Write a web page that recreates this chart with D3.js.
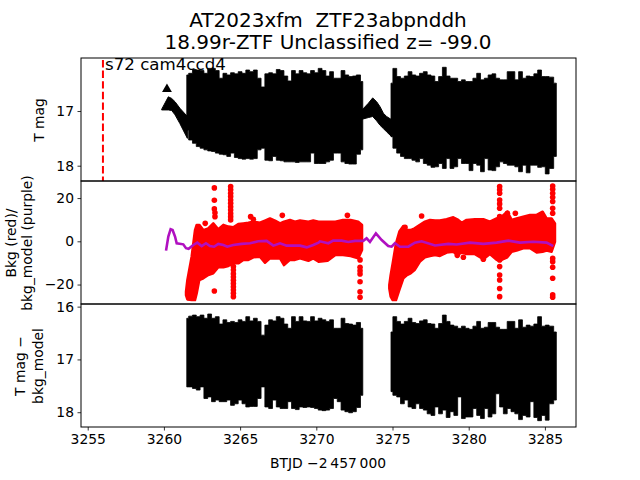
<!DOCTYPE html>
<html><head><meta charset="utf-8">
<script src="https://cdnjs.cloudflare.com/ajax/libs/d3/7.8.5/d3.min.js"></script>
<style>html,body{margin:0;padding:0;background:#fff}svg{display:block}text{font-family:"DejaVu Sans";fill:#000;white-space:pre}</style>
</head><body><script>
const titleLines=["AT2023xfm  ZTF23abpnddh","18.99r-ZTF Unclassified z= -99.0"];
const sectorLabel="s72 cam4ccd4";
const xTicks=[3255,3260,3265,3270,3275,3280,3285];
const topTicks=[17,18], midTicks=[20,0,-20], botTicks=[16,17,18];
const eventTime=3256;
const seg1Times=[3261.5,3261.75,3262,3262.25,3262.5,3262.75,3263,3263.25,3263.5,3263.75,3264,3264.25,3264.5,3264.75,3265,3265.25,3265.5,3265.75,3266,3266.25,3266.5,3266.75,3267,3267.25,3267.5,3267.75,3268,3268.25,3268.5,3268.75,3269,3269.25,3269.5,3269.75,3270,3270.25,3270.5,3270.75,3271,3271.25,3271.5,3271.75,3272,3272.25,3272.5,3272.75,3273.05];
const seg2Times=[3274.9,3275.15,3275.4,3275.65,3275.9,3276.15,3276.4,3276.65,3276.9,3277.15,3277.4,3277.65,3277.9,3278.15,3278.4,3278.65,3278.9,3279.15,3279.4,3279.65,3279.9,3280.15,3280.4,3280.65,3280.9,3281.15,3281.4,3281.65,3281.9,3282.15,3282.4,3282.65,3282.9,3283.15,3283.4,3283.65,3283.9,3284.15,3284.4,3284.65,3284.9,3285.15,3285.4,3285.75];
const topUp1=[16.34,16.31,16.24,16.25,16.26,16.31,16.22,16.22,16.26,16.40,16.31,16.34,16.30,16.32,16.28,16.31,16.25,16.28,16.25,16.40,16.56,16.32,16.30,16.32,16.24,16.26,16.36,16.45,16.26,16.32,16.26,16.30,16.32,16.26,16.30,16.22,16.26,16.36,16.28,16.40,16.40,16.26,16.34,16.37,16.36,16.34,16.46];
const topLow1=[17.35,17.53,17.59,17.65,17.68,17.71,17.73,17.74,17.77,17.79,17.80,17.83,17.77,17.85,17.87,17.88,17.87,17.88,17.87,17.71,17.68,17.90,17.91,17.83,17.90,17.91,17.93,17.93,17.93,17.94,17.93,17.93,17.93,17.77,17.96,17.96,17.96,17.93,17.90,17.77,17.77,17.93,17.96,17.97,17.97,17.79,17.71];
const topUp2=[16.49,16.22,16.37,16.40,16.36,16.28,16.34,16.36,16.31,16.28,16.34,16.36,16.46,16.37,16.20,16.36,16.40,16.40,16.46,16.43,16.46,16.46,16.40,16.31,16.43,16.40,16.34,16.32,16.40,16.43,16.43,16.28,16.28,16.43,16.28,16.40,16.36,16.37,16.32,16.25,16.37,16.37,16.38,16.49];
const topLow2=[17.47,17.68,17.77,17.83,17.87,17.87,17.90,17.93,17.87,17.96,17.99,18.03,18.02,17.96,18.05,17.87,18.05,18.02,17.87,17.96,17.96,18.09,17.96,17.99,18.11,17.87,18.08,18.09,18.02,17.93,17.96,17.99,17.99,18.02,18.11,17.99,18.13,17.99,17.99,18.03,18.02,18.15,18.05,17.83];
const botUp1=[16.22,16.18,16.16,16.19,16.16,16.22,16.14,16.22,16.19,16.33,16.25,16.30,16.28,16.30,16.25,16.28,16.19,16.27,16.22,16.28,16.54,16.35,16.25,16.27,16.19,16.22,16.33,16.41,16.19,16.28,16.19,16.27,16.28,16.19,16.27,16.22,16.25,16.28,16.25,16.41,16.41,16.22,16.32,16.33,16.35,16.30,16.41];
const botLow1=[17.52,17.52,17.55,17.58,17.52,17.74,17.71,17.80,17.77,17.80,17.80,17.77,17.87,17.84,17.77,17.84,17.90,17.89,17.89,17.74,17.52,17.90,17.93,17.77,17.90,17.93,17.93,17.80,17.93,17.95,17.90,17.91,17.90,17.91,17.93,17.96,17.97,17.96,17.93,17.74,17.80,17.96,17.99,18.01,17.99,17.91,17.68];
const botUp2=[16.48,16.19,16.28,16.33,16.28,16.22,16.30,16.32,16.27,16.25,16.32,16.33,16.41,16.32,16.16,16.28,16.35,16.37,16.41,16.37,16.41,16.43,16.37,16.28,16.41,16.39,16.30,16.30,16.39,16.43,16.43,16.28,16.28,16.41,16.25,16.39,16.35,16.37,16.33,16.19,16.37,16.35,16.37,16.48];
const botLow2=[17.61,17.68,17.71,17.84,17.77,17.90,17.93,17.84,17.93,17.96,18.03,18.06,17.90,18.03,17.96,18.10,17.99,18.06,17.71,18.12,18.09,18.09,17.93,18.06,18.12,17.93,18.09,18.03,17.65,17.90,18.03,17.93,17.99,18.03,18.14,18.06,18.09,17.80,18.10,18.16,18.06,18.15,17.84,17.77];
const earlyTimes=[3259.85,3260.29,3260.51,3260.73,3261.05,3261.54];
const earlyUp=[16.97,16.74,16.77,16.83,16.95,17.10];
const earlyLow=[16.98,16.98,16.99,17.07,17.23,17.50];
const firstTriangleTime=[3260.2], firstTriangleMag=[16.6];
const gapTimes=[3273.0,3273.41,3273.70,3273.96,3274.18,3274.40,3274.61,3274.95];
const gapUp=[16.98,16.86,16.76,16.83,16.92,17.04,17.10,17.16];
const gapLow=[17.15,17.12,17.10,17.18,17.26,17.32,17.38,17.47];
const bkgTimes1=[3261.45,3261.54,3261.82,3262.04,3262.15,3262.32,3262.59,3262.91,3263.24,3263.57,3263.90,3264.23,3264.55,3264.88,3265.21,3265.54,3265.87,3266.30,3266.63,3266.96,3267.29,3267.62,3267.88,3268.27,3268.60,3268.93,3269.48,3269.80,3270.15,3270.74,3271.25,3271.75,3272.25,3272.75,3273.0];
const bkgUp1=[-23.3,-17.9,-7.1,5.2,7.6,7.6,5.2,6.0,8.3,5.6,7.6,6.8,6.5,8.0,8.3,8.6,9.1,8.6,9.6,10.6,9.6,8.3,9.1,9.9,9.1,9.6,9.1,9.6,9.1,9.1,9.1,9.9,9.9,9.1,7.6];
const bkgLow1=[-24.9,-26.9,-27.2,-27.2,-24.1,-17.9,-17.1,-15.6,-14.8,-12,-12,-11.4,-10.2,-10.2,-8.6,-8.6,-7.4,-7.1,-9.9,-7.9,-7.9,-7.9,-11,-8.6,-8.6,-7.9,-9,-7.9,-9.4,-9,-6.3,-6.3,-6.8,-7.9,-4];
const bkgTimes2=[3274.79,3274.88,3275.01,3275.23,3275.45,3275.71,3275.95,3276.19,3276.45,3276.80,3277.13,3277.46,3277.79,3278.11,3278.55,3278.99,3279.25,3279.54,3279.86,3280.41,3280.96,3281.39,3281.83,3282.16,3282.53,3282.82,3283.14,3283.58,3284.02,3284.46,3284.85,3285.11,3285.44,3285.66];
const bkgUp2=[-20.2,-15.6,-10.2,-0.9,4.5,7.1,5.2,5.2,6.0,7.6,9.1,9.9,9.6,9.6,10.2,11.1,10.2,8.6,9.9,10.2,10.2,9.1,10.6,11.4,13.7,9.9,10.6,11.4,12.2,12.2,13.7,10.6,10.6,8.3];
const bkgLow2=[-21.8,-25.6,-27.2,-27.2,-22.5,-17.1,-15.6,-14.8,-13.3,-9.4,-7.4,-6.8,-6.3,-6.8,-5.2,-4.8,-6.3,-5.2,-5.9,-5.9,-8.3,-5.9,-8.6,-8.6,-7.4,-4.8,-4.3,-3.2,-3.2,-5.2,-4.8,-4.3,-4.8,-0.2];
const outlierTimes=[3263.31,3263.31,3263.31,3263.35,3263.35,3262.71,3263.31,3265.69,3265.87,3267.77,
 3264.38,3264.38,3264.38,3264.38,3264.38,3264.38,3264.38,3264.38,3264.38,3264.38,3264.38,
 3264.56,3264.56,3264.56,3264.56,3264.56,3264.56,3264.56,3264.56,3264.56,3264.56,
 3272.04,3272.87,3272.87,3272.87,3272.87,3272.87,3272.87,3272.87,3275.82,3276.91,3279.25,3279.65,3280.96,
 3282.03,3282.03,3282.03,3282.03,3282.03,3282.03,3282.03,3282.03,3282.03,3282.03,3282.03,3282.03,3282.03,
 3282.54,3283.06,
 3285.51,3285.51,3285.51,3285.51,3285.51,3285.51,3285.51,3285.51,3285.51,3285.51,3285.51,3285.51,3285.51];
const outlierVals=[24.7,19,15,13.2,11.4,8.3,-23.0,11.4,10.2,12,
 25.3,23.8,22.2,20.7,19.1,17.6,16,14.5,12.9,11.4,9.9,
 -11.7,-13.3,-15,-16.5,-18,-19.5,-21,-22.5,-24,-25.6,
 12,-8.6,-12,-13.6,-15.1,-18.7,-23.3,-25.9,6.5,11.7,-6.5,-7.4,-8.3,
 25.3,23.8,22.2,19.1,17.3,15.3,11.4,-8.6,-11.7,-15.6,-17.9,-21.8,-25.6,
 13,13,
 25.6,24.1,22.2,20.4,18.4,15.3,13,-7.9,-9.4,-12,-17.1,-24.8,-25.9];
const modelTimes=[3260.14,3260.29,3260.44,3260.57,3260.73,3260.84,3261.27,3261.45,3261.62,3261.93,3262.19,3262.48,3262.76,3263.02,3263.29,3263.57,3263.90,3264.16,3264.55,3265.10,3265.65,3266.19,3266.74,3267.18,3267.62,3268.05,3268.49,3268.93,3269.37,3269.80,3270.15,3270.24,3270.79,3271.11,3271.66,3272.10,3272.54,3273.08,3273.30,3273.52,3273.91,3274.29,3274.72,3274.94,3275.16,3275.49,3276.04,3276.47,3276.91,3277.79,3278.66,3279.21,3280.08,3280.96,3281.83,3282.60,3283.36,3284.24,3285.11,3285.55];
const modelVals=[-4.3,2.2,5.6,5.2,2.2,-0.9,-1.4,-3.2,-3.5,-1.7,-0.6,-2.2,-0.9,-2.2,-2.5,-1.2,-1.7,-2.5,-1.7,-1.2,-0.9,0,0.2,-2,-0.9,-2,-2,-2,-2.8,-1.7,-0.6,0,-0.9,0.3,0.3,-0.3,0.2,0.2,1.4,-0.3,3.7,0.6,-2.2,-2.5,-0.9,-2.5,-2.5,-0.6,0,-1.9,-1.2,-1.5,-0.6,-1.2,-0.6,0.3,-0.6,-0.2,-0.6,-2.2];

const W=640,H=480,L=81,R=576;
const svg=d3.select("body").append("svg").attr("width",W).attr("height",H);
const x=d3.scaleLinear().domain([3254.56,3287.04]).range([L,R]);
const yTop=d3.scaleLinear().domain([16.03,18.28]).range([58,181]);
const yMid=d3.scaleLinear().domain([27.9,-29]).range([181,304]);
const yBot=d3.scaleLinear().domain([15.95,18.28]).range([304,427]);
const defs=svg.append("defs");
function panel(id,y){
  defs.append("clipPath").attr("id",id).append("rect").attr("x",L).attr("y",y.range()[0]).attr("width",R-L).attr("height",y.range()[1]-y.range()[0]);
  return svg.append("g").attr("clip-path",`url(#${id})`);
}
const pTop=panel("cTop",yTop),pMid=panel("cMid",yMid),pBot=panel("cBot",yBot);
function band(g,y,times,up,low,color,sw,curve){
  const a=d3.area().curve(curve||d3.curveLinear).x(d=>x(d[0])).y0(d=>y(d[2])).y1(d=>y(d[1]));
  g.append("path").attr("d",a(d3.zip(times,up,low))).attr("fill",color).attr("stroke",color).attr("stroke-width",sw).attr("stroke-linejoin","round");
}
band(pTop,yTop,seg1Times,topUp1,topLow1,"#000",0.8,d3.curveStep);
band(pTop,yTop,seg2Times,topUp2,topLow2,"#000",0.8,d3.curveStep);
band(pTop,yTop,gapTimes,gapUp,gapLow,"#000",1);
band(pTop,yTop,earlyTimes,earlyUp,earlyLow,"#000",1);
const tri=d3.symbol().type(d3.symbolTriangle).size(42);
pTop.append("g").selectAll("path").data(d3.zip(firstTriangleTime,firstTriangleMag)).join("path")
  .attr("d",tri).attr("fill","#000").attr("transform",d=>`translate(${x(d[0])},${yTop(d[1])})`);
band(pBot,yBot,seg1Times,botUp1,botLow1,"#000",0.8,d3.curveStep);
band(pBot,yBot,seg2Times,botUp2,botLow2,"#000",0.8,d3.curveStep);
pTop.append("line").attr("x1",x(eventTime)).attr("x2",x(eventTime)).attr("y1",60).attr("y2",181)
  .attr("stroke","#f00").attr("stroke-width",2).attr("stroke-dasharray","7.4,3.2");
band(pMid,yMid,bkgTimes1,bkgUp1,bkgLow1,"#f00",2.5);
band(pMid,yMid,bkgTimes2,bkgUp2,bkgLow2,"#f00",2.5);
svg.append("g").selectAll("circle").data(d3.zip(outlierTimes,outlierVals)).join("circle")
  .attr("cx",d=>x(d[0])).attr("cy",d=>yMid(d[1])).attr("r",2.8).attr("fill","#f00");
svg.append("path").attr("d",d3.line().x(d=>x(d[0])).y(d=>yMid(d[1]))(d3.zip(modelTimes,modelVals)))
  .attr("fill","none").attr("stroke","#b010c0").attr("stroke-width",2.6);

function fmtAxis(g){
  g.selectAll("text").style("font-size","13.89px").style("font-family","DejaVu Sans");
  g.selectAll("line").attr("stroke","#000").attr("stroke-width",0.8);
  g.select(".domain").remove();
}
const tf=d=>String(d).replace("-","\u2212");
function yaxis(y,t){svg.append("g").attr("transform",`translate(${L},0)`).call(d3.axisLeft(y).tickValues(t).tickFormat(tf).tickSize(3.5).tickPadding(3.5)).call(fmtAxis);}
yaxis(yTop,topTicks);yaxis(yMid,midTicks);yaxis(yBot,botTicks);
svg.append("g").attr("transform","translate(0,427)").call(d3.axisBottom(x).tickValues(xTicks).tickFormat(d3.format("d")).tickSize(3.5).tickPadding(3.5)).call(fmtAxis);
[58,181,304].forEach(t=>svg.append("rect").attr("x",L).attr("y",t).attr("width",R-L).attr("height",123).attr("fill","none").attr("stroke","#000").attr("stroke-width",1));

svg.append("text").attr("x",328).attr("y",27).attr("text-anchor","middle").style("font-size","20px").text(titleLines[0]);
svg.append("text").attr("x",328).attr("y",49).attr("text-anchor","middle").style("font-size","20px").text(titleLines[1]);
svg.append("text").attr("x",105).attr("y",70).style("font-size","16.67px").text(sectorLabel);
svg.append("text").attr("x",328).attr("y",468).attr("text-anchor","middle").style("font-size","13.89px").text("BTJD \u22122\u2009457\u2009000");
function ylab(cx,cy,lines,lh){
  lines.forEach((s,i)=>svg.append("text").attr("transform",`translate(${cx+(i-(lines.length-1)/2)*lh},${cy}) rotate(-90)`).attr("text-anchor","middle").style("font-size","13.89px").text(s));
}
ylab(43.5,120,["T mag"],0);
ylab(24,243,["Bkg (red)/","bkg_model (purple)"],16.6);
ylab(34,366,["T mag \u2212","bkg_model"],18);
</script></body></html>
